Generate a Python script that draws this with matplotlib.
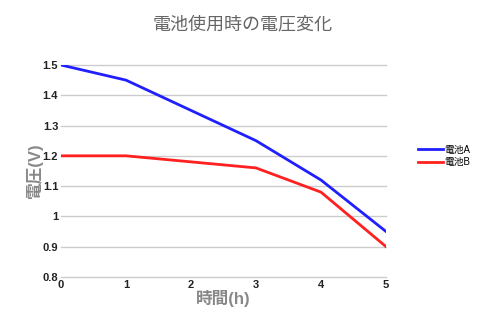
import matplotlib
matplotlib.use("Agg")
import matplotlib.pyplot as plt

plt.rcParams['font.family'] = ['Liberation Sans', 'Noto Sans CJK JP', 'DejaVu Sans']

hours = [0, 1, 2, 3, 4, 5]
battery_a = [1.5, 1.45, 1.35, 1.25, 1.12, 0.95]
battery_b = [1.2, 1.2, 1.18, 1.16, 1.08, 0.9]
y_ticks = [0.8, 0.9, 1.0, 1.1, 1.2, 1.3, 1.4, 1.5]
y_labels = ["0.8", "0.9", "1", "1.1", "1.2", "1.3", "1.4", "1.5"]

fig = plt.figure(figsize=(5, 3.25), dpi=100)
ax = fig.add_axes([0.122, 0.148, 0.65, 0.652])

ax.plot(hours, battery_a, color="#1f1fff", lw=2, label="電池A")
ax.plot(hours, battery_b, color="#ff2020", lw=2, label="電池B")

ax.set_xlim(0, 5)
ax.set_ylim(0.8, 1.5)
ax.set_yticks(y_ticks)
ax.set_yticklabels(y_labels)
ax.set_xticks(hours)
ax.grid(axis="y", color="#cccccc", lw=1, clip_on=False)
ax.set_axisbelow(True)
for s in ax.spines.values():
    s.set_visible(False)
ax.tick_params(length=0, labelsize=8, labelcolor="#222222", pad=2)
for lab in ax.get_xticklabels() + ax.get_yticklabels():
    lab.set_fontweight("bold")

ax.set_xlabel("時間(h)", fontsize=12, color="#888888", fontweight="bold", labelpad=0)
ax.set_ylabel("電圧(V)", fontsize=12, color="#888888", fontweight="bold", labelpad=0)

fig.text(0.486, 0.923, "電池使用時の電圧変化", ha="center", va="center",
         fontsize=13, color="#666666")

ax.legend(loc="center left", bbox_to_anchor=(1.07, 0.57), frameon=False,
          fontsize=7, handlelength=2.6, handletextpad=0.2, labelspacing=0.25)

fig.savefig("out.png", dpi=100)
